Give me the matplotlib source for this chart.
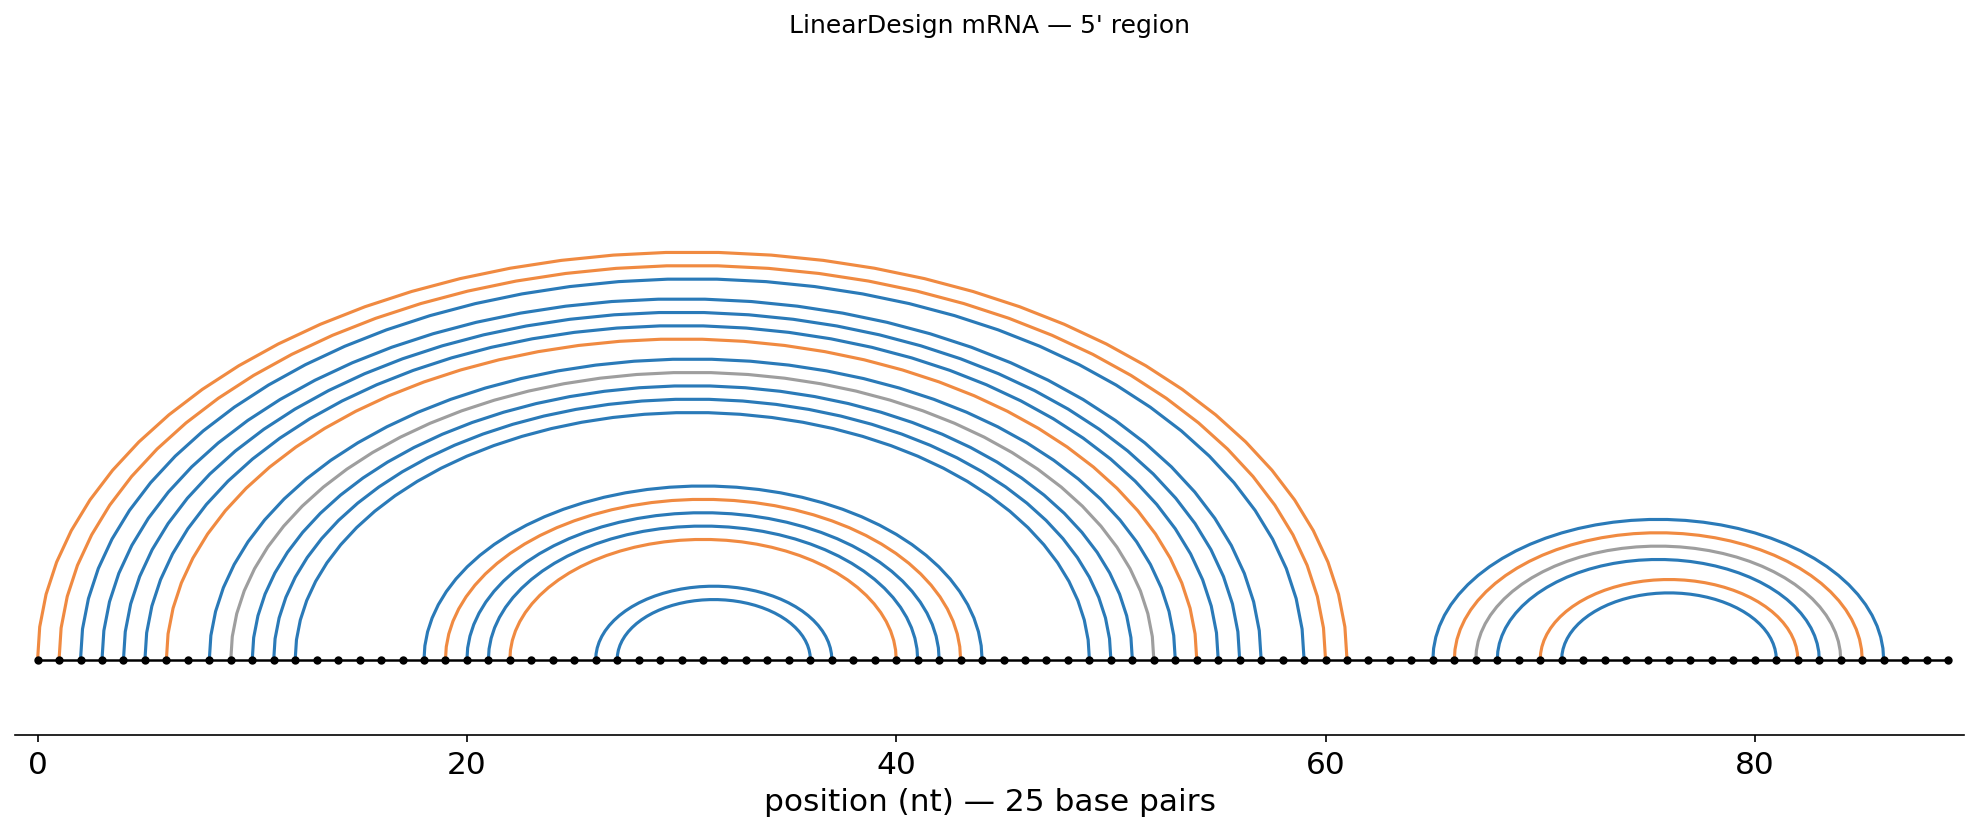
import matplotlib
matplotlib.use("Agg")
import matplotlib.pyplot as plt
import numpy as np

# sequence length and base pairs (i, j, pair type)
n_nt = 90
pair_i = [0, 1, 2, 3, 4, 5, 6, 8, 9, 10, 11, 12,
          18, 19, 20, 21, 22, 26, 27,
          65, 66, 67, 68, 70, 71]
pair_j = [61, 60, 59, 57, 56, 55, 54, 53, 52, 51, 50, 49,
          44, 43, 42, 41, 40, 37, 36,
          86, 85, 84, 83, 82, 81]
pair_type = ['AU', 'AU', 'GC', 'GC', 'GC', 'GC', 'AU', 'GC', 'GU', 'GC', 'GC', 'GC',
             'GC', 'AU', 'GC', 'GC', 'AU', 'GC', 'GC',
             'GC', 'AU', 'GU', 'GC', 'AU', 'GC']
xticks = [0, 20, 40, 60, 80]

colors = {'GC': '#2a7ab8', 'AU': '#f08a41', 'GU': '#9e9e9e'}

fig = plt.figure(figsize=(13.2, 5.553), dpi=150)
ax = fig.add_subplot(111)
fig.subplots_adjust(left=0.0076, right=0.992, bottom=0.1164, top=0.94)

theta = np.linspace(0, np.pi, 40)
for i, j, t in zip(pair_i, pair_j, pair_type):
    c = (i + j) / 2.0
    r = (j - i) / 2.0
    ax.plot(c - r * np.cos(theta), r * np.sin(theta), color=colors[t], lw=1.5, zorder=2)

pos = np.arange(n_nt)
ax.plot(pos, np.zeros(n_nt), color='black', lw=1.2, marker='o', ms=3, zorder=3)

ax.set_xlim(-1.05, 89.75)
ax.set_ylim(-5.64, 45.7)
ax.set_yticks([])
ax.set_xticks(xticks)
for s in ['left', 'right', 'top']:
    ax.spines[s].set_visible(False)
ax.tick_params(axis='x', labelsize=15)
ax.set_xlabel('position (nt) — 25 base pairs', fontsize=15)
ax.set_title("LinearDesign mRNA — 5' region", fontsize=12, pad=8)

fig.savefig('out.png', dpi=150)
